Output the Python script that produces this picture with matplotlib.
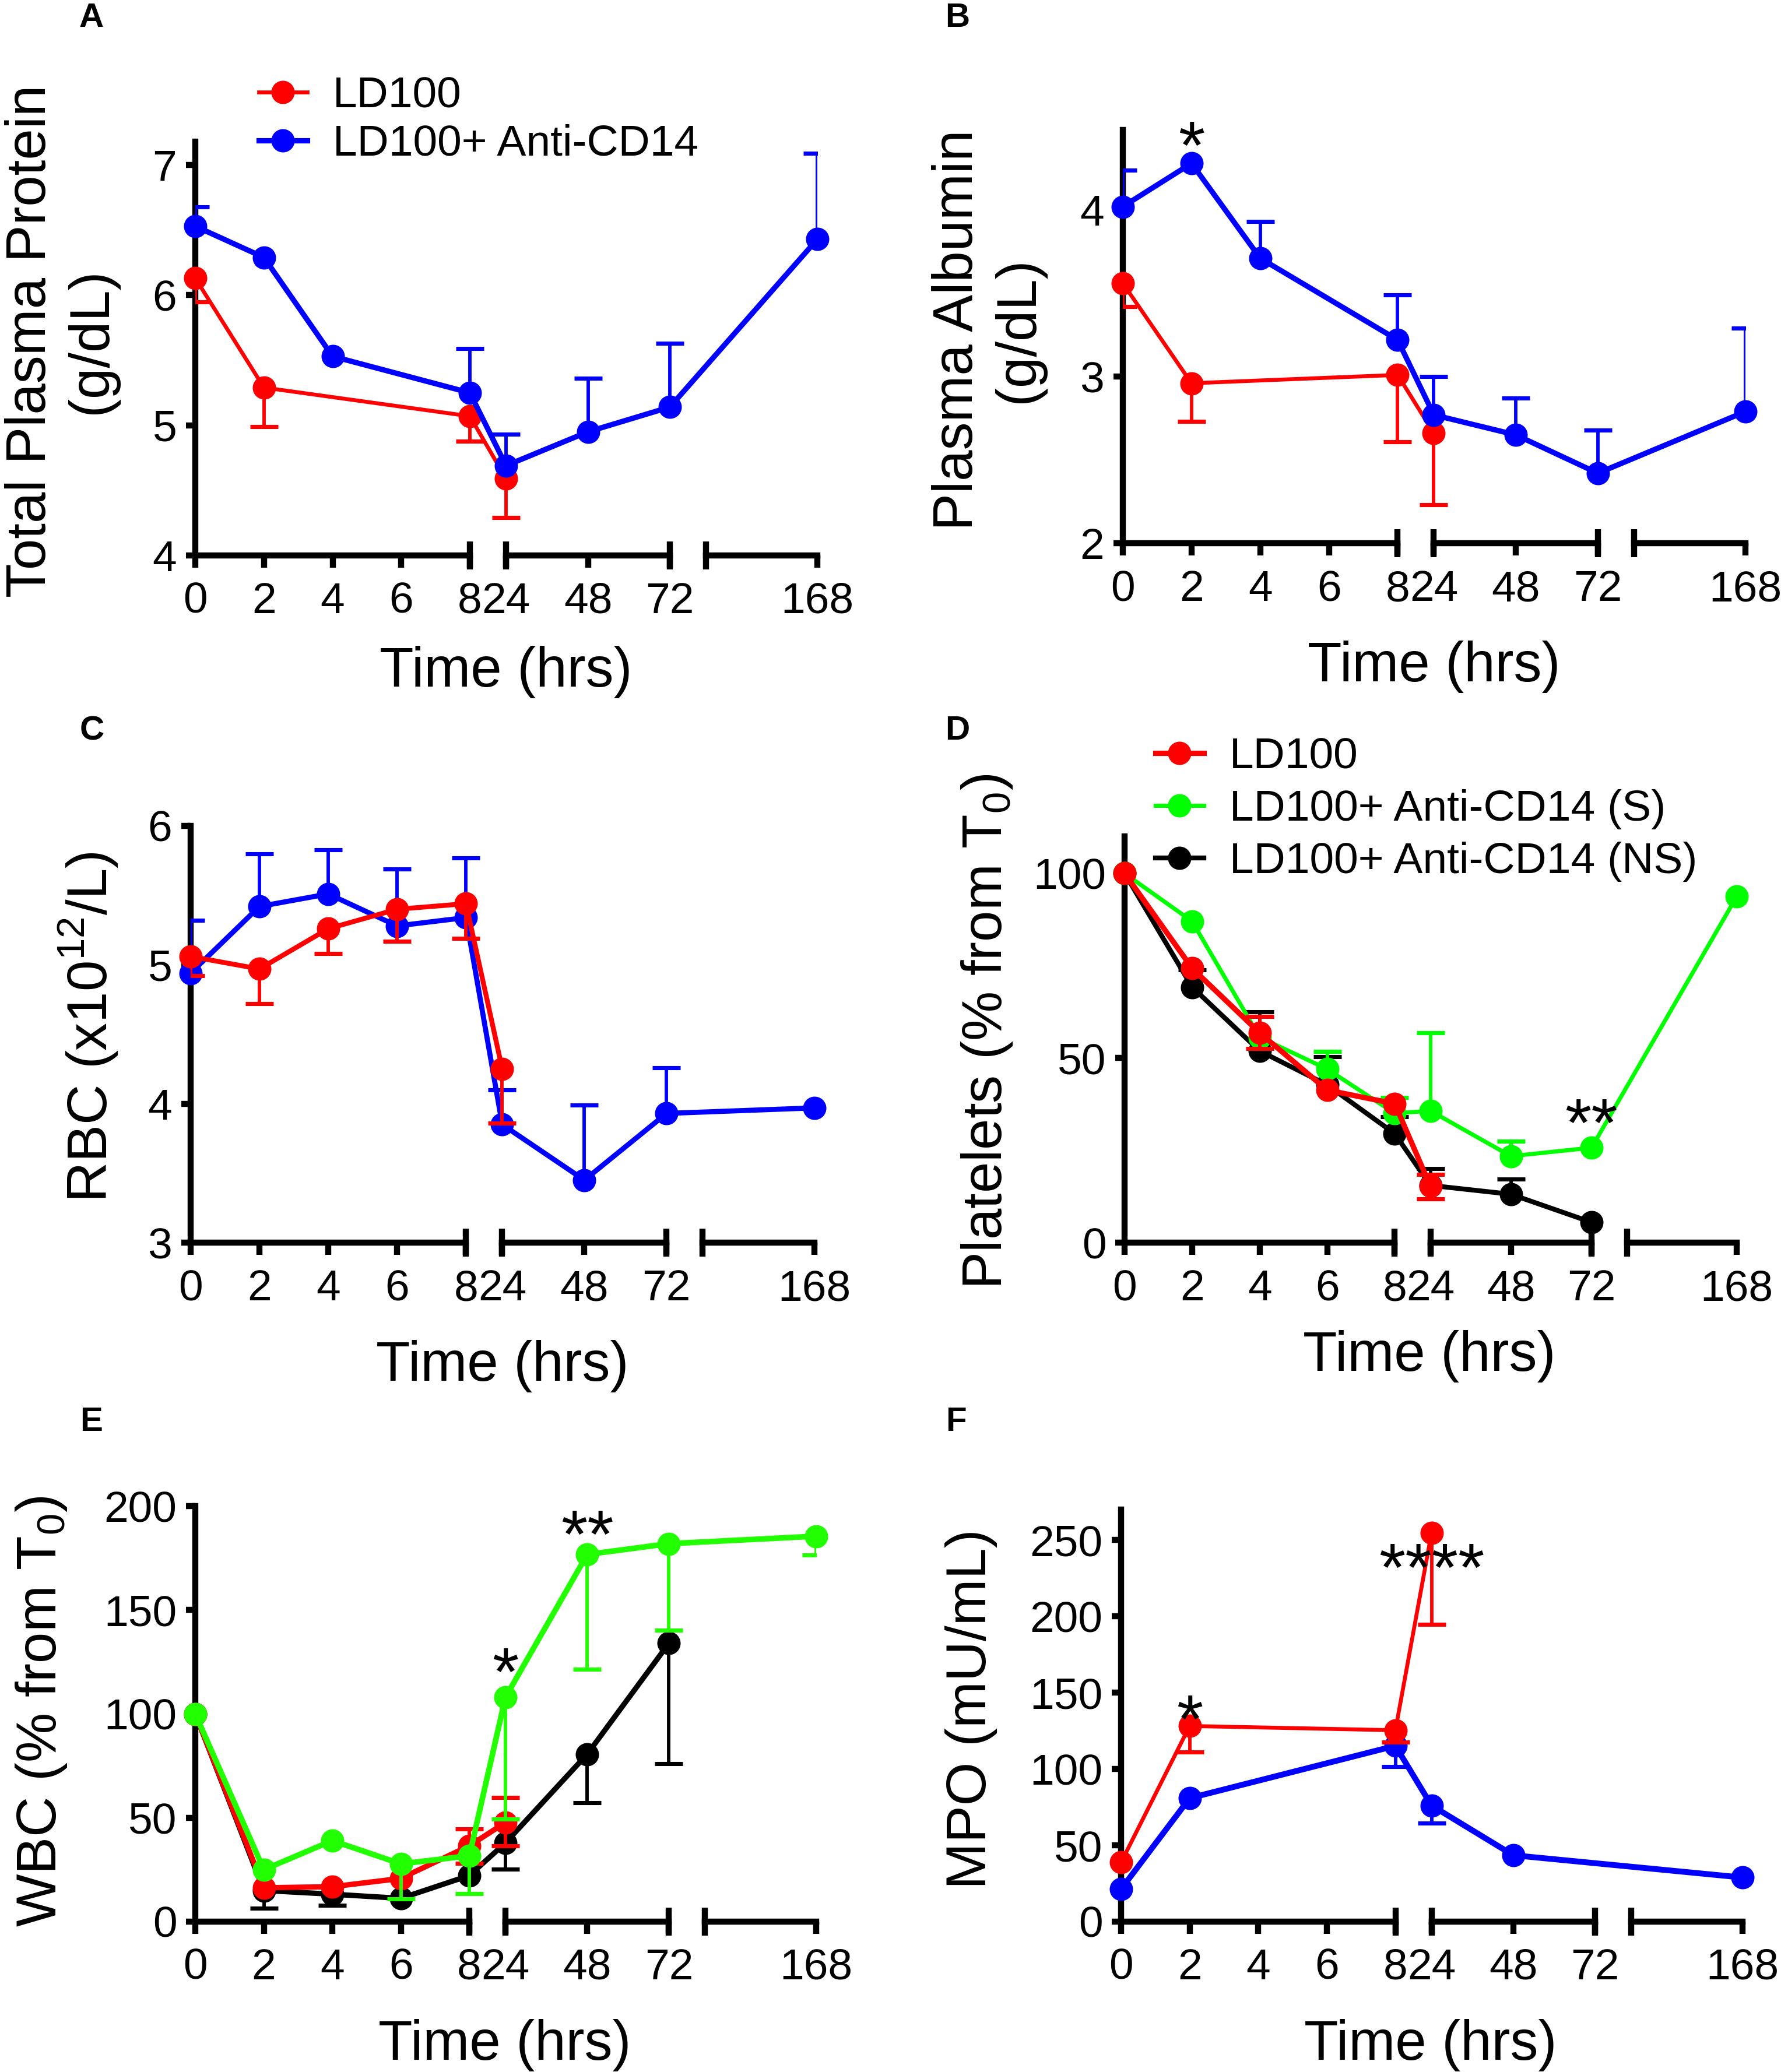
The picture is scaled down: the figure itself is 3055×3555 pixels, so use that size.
import numpy as np
import matplotlib
matplotlib.use('Agg')
import matplotlib.pyplot as plt

plt.rcParams['font.family'] = ['Liberation Sans', 'DejaVu Sans']
plt.rcParams['mathtext.fontset'] = 'custom'
plt.rcParams['mathtext.rm'] = 'Liberation Sans'

W, H = 3055, 3555
DPI = 300

RED = '#ff0000'
BLUE = '#0000ff'
GREEN = '#00ff00'
GREEN_E = '#22ff00'
BLACK = '#000000'

# broken time axis: 0-8 | 24-72 | ... 168
tick_times = [0, 2, 4, 6, 8, 24, 48, 72, 168]
tick_labels = ['0', '2', '4', '6', '8', '24', '48', '72', '168']
break_times = [8, 24, 72, 120]
segments = [(0, 8), (24, 72), (120, 168)]
knot_t = [-100, 0, 8, 24, 72, 120, 168, 1000]
knot_p = [-100, 0, 8, 9.053, 13.826, 14.879, 18.123, 74.37]

# ---- panel A: total plasma protein (g/dL)
a_red_t = [0, 2, 8, 24]
a_red_y = [6.13, 5.29, 5.07, 4.59]
a_red_dn = [0.18, 0.30, 0.19, 0.30]
a_blue_t = [0, 2, 4, 8, 24, 48, 72, 168]
a_blue_y = [6.53, 6.29, 5.53, 5.25, 4.69, 4.95, 5.14, 6.43]
a_blue_up = [0.15, 0, 0, 0.34, 0.24, 0.41, 0.49, 0.66]

# ---- panel B: plasma albumin (g/dL)
b_red_t = [0, 2, 8, 24]
b_red_y = [3.56, 2.96, 3.01, 2.66]
b_red_dn = [0.14, 0.23, 0.40, 0.43]
b_blue_t = [0, 2, 4, 8, 24, 48, 72, 168]
b_blue_y = [4.02, 4.28, 3.71, 3.22, 2.77, 2.65, 2.42, 2.79]
b_blue_up = [0.22, 0, 0.22, 0.27, 0.23, 0.22, 0.26, 0.50]

# ---- panel C: RBC
c_blue_t = [0, 2, 4, 6, 8, 24, 48, 72, 168]
c_blue_y = [4.94, 5.42, 5.51, 5.28, 5.34, 3.85, 3.45, 3.93, 3.97]
c_blue_up = [0.38, 0.38, 0.32, 0.41, 0.43, 0.25, 0.54, 0.33, 0]
c_red_t = [0, 2, 4, 6, 8, 24]
c_red_y = [5.06, 4.97, 5.26, 5.40, 5.44, 4.25]
c_red_dn = [0.14, 0.25, 0.18, 0.23, 0.25, 0.39]

# ---- panel D: platelets (% from T0)
d_black_t = [0, 2, 4, 6, 8, 24, 48, 72]
d_black_y = [100, 69.2, 51.9, 42.7, 29.5, 15.5, 13.1, 5.5]
d_black_up = [0, 4.6, 10.6, 7.6, 4.6, 4.5, 4.1, 0]
d_green_t = [0, 2, 4, 6, 8, 24, 48, 72, 168]
d_green_y = [100, 87.0, 55.6, 47.0, 35.0, 35.7, 23.4, 25.7, 93.7]
d_green_up = [0, 0, 0, 4.8, 4.3, 21.1, 4.1, 0, 0]
d_red_t = [0, 2, 4, 6, 8, 24]
d_red_y = [100, 74.3, 56.8, 41.3, 37.6, 15.3]
d_red_up = [0, 0, 4.4, 0, 0, 3.2]
d_red_dn = [0, 0, 4.2, 0, 0, 3.5]

# ---- panel E: WBC (% from T0)
e_black_t = [0, 2, 4, 6, 8, 24, 48, 72]
e_black_y = [100, 15.0, 13.2, 11.2, 22.2, 37.9, 80.6, 134]
e_black_dn = [0, 8.5, 5.3, 0, 0, 12.7, 23.5, 58]
e_red_t = [0, 2, 4, 6, 8, 24]
e_red_y = [100, 16.3, 16.8, 20.8, 36.5, 47.7]
e_red_up = [0, 0, 0, 0, 8.1, 12.0]
e_red_dn = [0, 0, 0, 0, 8.5, 11.2]
e_green_t = [0, 2, 4, 6, 8, 24, 48, 72, 168]
e_green_y = [100, 25.0, 39.0, 27.8, 31.7, 108, 176.7, 181.9, 185.5]
e_green_dn = [0, 0, 0, 16.8, 18.2, 58.6, 55.2, 41.7, 9]

# ---- panel F: MPO (mU/mL)
f_blue_t = [0, 2, 8, 24, 48, 168]
f_blue_y = [21.3, 80.9, 115.2, 76.1, 43.5, 28.9]
f_blue_dn = [0, 0, 13.7, 11.5, 0, 0]
f_red_t = [0, 2, 8, 24]
f_red_y = [38.8, 128.2, 125.4, 254.7]
f_red_dn = [0, 17.2, 7.9, 59.9]

# significance marks (time, centre of the asterisks)
b_stars = [('*', 2, 4.48)]
d_stars = [('**', 72, 36.6)]
e_stars = [('*', 24, 127.6), ('**', 48, 193.8)]
f_stars = [('*', 2, 142.8), ('****', 24, 242)]

AX_LW = 2.5
MS = 9.6
EB_LW = 1.4
CAP_W = 11.3
CAP_LW = 1.7


def fwd(t):
    return np.interp(t, knot_t, knot_p)


def inv(p):
    return np.interp(p, knot_p, knot_t)


def make_axes(fig, box, ylim, yticks):
    l, t, r, b = box
    ax = fig.add_axes([l / W, 1 - b / H, (r - l) / W, (b - t) / H])
    ax.set_xscale('function', functions=(fwd, inv))
    ax.set_xlim(0, 168)
    ax.set_ylim(*ylim)
    ax.set_yticks(yticks)
    ax.set_xticks(tick_times)
    ax.set_xticklabels(tick_labels)
    for s in ['top', 'right', 'bottom']:
        ax.spines[s].set_visible(False)
    ax.spines['left'].set_linewidth(AX_LW)
    ax.tick_params(axis='x', direction='out', length=5, width=AX_LW, pad=5.8, labelsize=18)
    ax.tick_params(axis='y', direction='out', length=3.8, width=AX_LW, pad=3.8, labelsize=18)
    trans = ax.get_xaxis_transform()
    for t0, t1 in segments:
        ax.plot([t0, t1], [0, 0], color='k', lw=AX_LW, transform=trans,
                clip_on=False, solid_capstyle='projecting', zorder=5)
    ax.plot(break_times, [0] * len(break_times), ls='none', marker='|', ms=11.3,
            mew=AX_LW, color='k', transform=trans, clip_on=False, zorder=5)
    return ax


def series(ax, t, y, color, lw, up=None, dn=None, z=3, label=None):
    t = np.asarray(t, float)
    y = np.asarray(y, float)
    for err, sign in ((up, 1), (dn, -1)):
        if err is None:
            continue
        err = np.asarray(err, float)
        m = err > 0
        ends = y[m] + sign * err[m]
        ax.vlines(t[m], y[m], ends, colors=color, lw=EB_LW, zorder=z)
        ax.plot(t[m], ends, ls='none', marker='_', ms=CAP_W, mew=CAP_LW,
                color=color, zorder=z)
    line, = ax.plot(t, y, color=color, lw=lw, marker='o', ms=MS, mew=0,
                    clip_on=False, zorder=z + 0.5, label=label)
    return line


def stars(ax, marks):
    for txt, t, v in marks:
        ax.annotate(txt, xy=(t, v), xytext=(0, -16), textcoords='offset points',
                    ha='center', va='baseline', fontsize=28, zorder=10)


def ftext(fig, x, y, s, **kw):
    fig.text(x / W, 1 - y / H, s, **kw)


fig = plt.figure(figsize=(W / DPI, H / DPI), dpi=DPI)

# A
axA = make_axes(fig, (335, 243, 1402, 953), (4, 7.18), [4, 5, 6, 7])
hA1 = series(axA, a_red_t, a_red_y, RED, 1.6, dn=a_red_dn, z=3, label='LD100')
hA2 = series(axA, a_blue_t, a_blue_y, BLUE, 2.2, up=a_blue_up, z=4, label='LD100+ Anti-CD14')
axA.legend(handles=[hA1, hA2], loc='center left', bbox_to_anchor=(444 / W, 1 - 206 / H),
           bbox_transform=fig.transFigure, frameon=False, borderpad=0, borderaxespad=0,
           fontsize=18, handlelength=1.1, handletextpad=0.59, labelspacing=0.18)

# B
axB = make_axes(fig, (1926, 223, 2994, 932), (2, 4.48), [2, 3, 4])
series(axB, b_red_t, b_red_y, RED, 1.6, dn=b_red_dn, z=3)
series(axB, b_blue_t, b_blue_y, BLUE, 2.2, up=b_blue_up, z=4)
stars(axB, b_stars)

# C
axC = make_axes(fig, (327, 1417, 1397, 2132), (3, 6), [3, 4, 5, 6])
series(axC, c_blue_t, c_blue_y, BLUE, 2.1, up=c_blue_up, z=3)
series(axC, c_red_t, c_red_y, RED, 2.0, dn=c_red_dn, z=4)

# D
axD = make_axes(fig, (1929, 1435, 2979, 2132), (0, 110), [0, 50, 100])
hD3 = series(axD, d_black_t, d_black_y, BLACK, 2.0, up=d_black_up, z=3,
             label='LD100+ Anti-CD14 (NS)')
hD2 = series(axD, d_green_t, d_green_y, GREEN, 1.7, up=d_green_up, z=4,
             label='LD100+ Anti-CD14 (S)')
hD1 = series(axD, d_red_t, d_red_y, RED, 2.2, up=d_red_up, dn=d_red_dn, z=5, label='LD100')
stars(axD, d_stars)
axD.legend(handles=[hD1, hD2, hD3], loc='center left', bbox_to_anchor=(1982 / W, 1 - 1389 / H),
           bbox_transform=fig.transFigure, frameon=False, borderpad=0, borderaxespad=0,
           fontsize=18, handlelength=1.1, handletextpad=0.59, labelspacing=0.28)

# E
axE = make_axes(fig, (335, 2584, 1400, 3297), (0, 200), [0, 50, 100, 150, 200])
series(axE, e_black_t, e_black_y, BLACK, 2.2, dn=e_black_dn, z=3)
series(axE, e_red_t, e_red_y, RED, 2.2, up=e_red_up, dn=e_red_dn, z=4)
series(axE, e_green_t, e_green_y, GREEN_E, 2.3, dn=e_green_dn, z=5)
stars(axE, e_stars)

# F
axF = make_axes(fig, (1923, 2590, 2989, 3297), (0, 270), [0, 50, 100, 150, 200, 250])
series(axF, f_blue_t, f_blue_y, BLUE, 2.4, dn=f_blue_dn, z=3)
series(axF, f_red_t, f_red_y, RED, 1.6, dn=f_red_dn, z=4)
stars(axF, f_stars)

# axis titles
lab = dict(fontsize=23, rotation=90, ha='center', va='center', multialignment='center')
ftext(fig, 105, 585, 'Total Plasma Protein\n(g/dL)', **lab)
ftext(fig, 1695, 566, 'Plasma Albumin\n(g/dL)', **lab)
ftext(fig, 151, 1762, r'RBC (x10$^{\mathregular{12}}$/L)', **lab)
ftext(fig, 1693, 1770, r'Platelets (% from T$_{\mathregular{0}}$)', **lab)
ftext(fig, 71, 2936, r'WBC (% from T$_{\mathregular{0}}$)', **lab)
ftext(fig, 1666, 2932, 'MPO (mU/mL)', **lab)

xl = dict(fontsize=23, ha='center', va='center')
for x, y in [(868, 1153), (2460, 1144), (862, 2344), (2452, 2327), (866, 3509), (2454, 3509)]:
    ftext(fig, x, y, 'Time (hrs)', **xl)

# panel letters
for s, x, y in [('A', 157, 46), ('B', 1642, 46), ('C', 158, 1269),
                ('D', 1642, 1269), ('E', 157, 2455), ('F', 1640, 2455)]:
    ftext(fig, x, y, s, fontsize=14, fontweight='bold', ha='center', va='baseline')

fig.savefig('out.png', dpi=DPI)
